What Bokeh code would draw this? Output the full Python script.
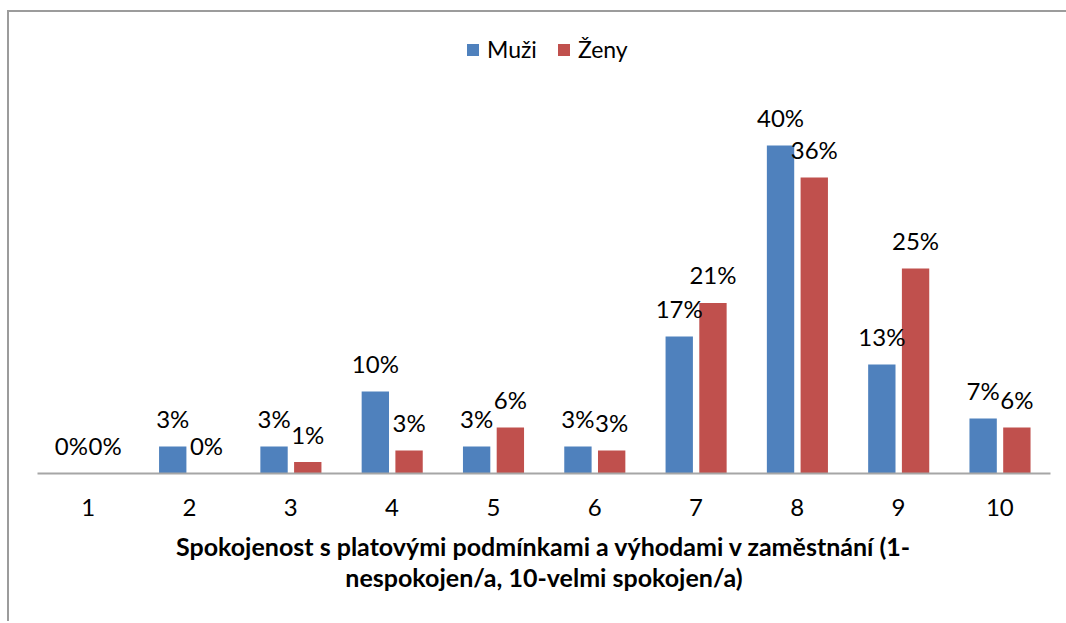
from bokeh.plotting import figure
from bokeh.models import FactorRange, Range1d, ColumnDataSource, Legend, LegendItem, CategoricalAxis
from bokeh.transform import dodge
from bokeh.core.properties import value
from bokeh.embed import file_html
from bokeh.resources import INLINE

categories = ["1", "2", "3", "4", "5", "6", "7", "8", "9", "10"]
muzi = [0.0, 3.3, 3.3, 10.0, 3.3, 3.3, 16.7, 40.0, 13.3, 6.7]
zeny = [0.0, 0.0, 1.4, 2.8, 5.6, 2.8, 20.8, 36.1, 25.0, 5.6]
muzi_labels = ["0%", "3%", "3%", "10%", "3%", "3%", "17%", "40%", "13%", "7%"]
zeny_labels = ["0%", "0%", "1%", "3%", "6%", "3%", "21%", "36%", "25%", "6%"]
series_names = ["Muži", "Ženy"]
title_lines = ["Spokojenost s platovými podmínkami a výhodami v zaměstnání (1-",
               "nespokojen/a, 10-velmi spokojen/a)"]

BLUE = "#4F81BD"
RED = "#C0504D"
FONT = "Lato"
PX_PER_UNIT = 8.2

src = ColumnDataSource(dict(cat=categories, muzi=muzi, zeny=zeny,
                            ml=muzi_labels, zl=zeny_labels))

p = figure(width=1062, height=611,
           x_range=FactorRange(*categories, range_padding=0),
           y_range=Range1d(0, 453 / PX_PER_UNIT),
           y_axis_location=None,
           min_border_left=28, min_border_right=21,
           min_border_top=8, min_border_bottom=150,
           background_fill_color="white", border_fill_color="white",
           output_backend="svg", toolbar_location=None)
p.styles = {"position": "relative", "left": "9px", "top": "12px",
            "background-color": "white",
            "box-shadow": "-2px -2px 0px 0px #9c9c9c"}
p.outline_line_color = None
p.xgrid.visible = False
p.ygrid.visible = False

r1 = p.vbar(x=dodge("cat", -0.165, range=p.x_range), top="muzi", width=0.27,
            source=src, fill_color=BLUE, line_color=None)
r2 = p.vbar(x=dodge("cat", 0.168, range=p.x_range), top="zeny", width=0.27,
            source=src, fill_color=RED, line_color=None)

p.text(x=dodge("cat", -0.165, range=p.x_range), y="muzi", text="ml", source=src,
       text_align="center", text_baseline="alphabetic", y_offset=-28,
       text_font=value(FONT), text_font_size="24px", text_color="#000000")
p.text(x=dodge("cat", 0.168, range=p.x_range), y="zeny", text="zl", source=src,
       text_align="center", text_baseline="alphabetic", y_offset=-28,
       text_font=value(FONT), text_font_size="24px", text_color="#000000")

ax = p.xaxis[0]
ax.axis_line_color = "#a6a6a6"
ax.axis_line_width = 2
ax.major_tick_line_color = None
ax.minor_tick_line_color = None
ax.major_label_standoff = 19
ax.major_label_text_font = FONT
ax.major_label_text_font_size = "24px"
ax.major_label_text_color = "#000000"
ax.axis_label = title_lines[0]
ax.axis_label_standoff = 12
ax.axis_label_text_font = FONT
ax.axis_label_text_font_size = "25px"
ax.axis_label_text_font_style = "bold"
ax.axis_label_text_color = "#000000"

ax2 = CategoricalAxis(axis_label=title_lines[1], axis_label_standoff=-8,
                      axis_label_text_font=FONT, axis_label_text_font_size="25px",
                      axis_label_text_font_style="bold", axis_label_text_color="#000000",
                      axis_line_color=None, major_tick_line_color=None,
                      minor_tick_line_color=None, major_label_standoff=0,
                      major_label_text_font_size="1px", major_label_text_alpha=0)
p.add_layout(ax2, "below")

legend = Legend(items=[LegendItem(label=series_names[0], renderers=[r1]),
                       LegendItem(label=series_names[1], renderers=[r2])],
                orientation="horizontal", location=(428, 410),
                padding=0, margin=0, spacing=19, label_standoff=7,
                glyph_width=15, glyph_height=15,
                border_line_color=None, background_fill_alpha=0,
                label_text_font=FONT, label_text_font_size="23px",
                label_text_color="#000000")
p.add_layout(legend)

open("out.html", "w").write(file_html(p, INLINE))
